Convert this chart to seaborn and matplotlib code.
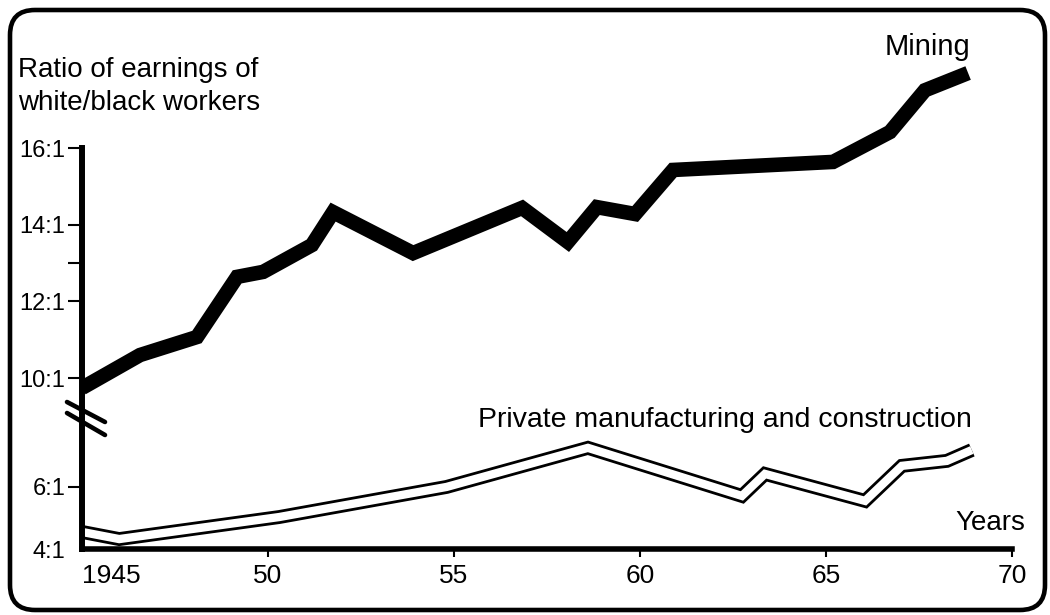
import pandas as pd
import matplotlib.pyplot as plt
import seaborn as sns
from matplotlib.patches import FancyBboxPatch
from matplotlib.lines import Line2D

# values (x in years, y as white/black ratio)
mining_years = [1945.0, 1946.56, 1948.09, 1949.17, 1949.87, 1951.18, 1951.75, 1953.9,
                1956.83, 1958.06, 1958.84, 1959.87, 1960.89, 1965.19, 1966.72, 1967.66, 1968.82]
mining_ratio = [9.74, 10.60, 11.07, 12.64, 12.77, 13.47, 14.33, 13.26,
                14.44, 13.55, 14.46, 14.28, 15.43, 15.64, 16.42, 17.51, 17.96]

private_years = [1945.0, 1946.0, 1950.3, 1954.8, 1958.6, 1962.74, 1963.36,
                 1966.05, 1967.04, 1968.25, 1968.92]
private_ratio = [4.55, 4.32, 5.03, 6.0, 7.26, 5.71, 6.42, 5.55, 6.68, 6.84, 7.19]

x_ticks = [1945, 1950, 1955, 1960, 1965, 1970]
x_labels = ['1945', '50', '55', '60', '65', '70']
upper_ticks = [10, 12, 14, 16]
upper_labels = ['10:1', '12:1', '14:1', '16:1']
lower_ticks = [4, 6]
lower_labels = ['4:1', '6:1']

mining = pd.DataFrame({'year': mining_years, 'ratio': mining_ratio})
private = pd.DataFrame({'year': private_years, 'ratio': private_ratio})

sns.set_style('ticks', {'axes.edgecolor': 'black', 'xtick.color': 'black',
                        'ytick.color': 'black', 'text.color': 'black'})
plt.rcParams['font.family'] = ['Liberation Sans', 'DejaVu Sans']

W, H = 1050, 615
fig = plt.figure(figsize=(W / 100, H / 100), dpi=100)


def fx(x):
    return x / W


def fy(y):
    return 1 - y / H


# broken y axis: two stacked axes sharing the years
ax_top = fig.add_axes([fx(82), fy(410), fx(930), 350 / H])
ax_bot = fig.add_axes([fx(82), fy(549), fx(930), 139 / H], sharex=ax_top)

sns.lineplot(data=mining, x='year', y='ratio', ax=ax_top, color='black', lw=10.5,
             solid_joinstyle='miter', solid_capstyle='butt')
sns.lineplot(data=private, x='year', y='ratio', ax=ax_bot, color='black', lw=10,
             solid_joinstyle='miter', solid_capstyle='butt')
sns.lineplot(data=private, x='year', y='ratio', ax=ax_bot, color='white', lw=6,
             solid_joinstyle='miter', solid_capstyle='butt')

ax_top.set_xlim(1945, 1970)
ax_top.set_ylim(9.165, 18.3)
ax_bot.set_ylim(4, 8.48)

for ax in (ax_top, ax_bot):
    ax.set_xlabel('')
    ax.set_ylabel('')
    ax.patch.set_visible(False)
    for s in ('top', 'right'):
        ax.spines[s].set_visible(False)
    ax.spines['left'].set_linewidth(4.3)
    ax.tick_params(axis='y', direction='out', length=10, width=1.5, labelsize=17, pad=2)

ax_top.spines['bottom'].set_visible(False)
ax_top.spines['left'].set_bounds(9.165, 16)
ax_top.tick_params(axis='x', bottom=False, labelbottom=False)
ax_top.set_yticks(upper_ticks, upper_labels)
ax_top.set_yticks([13], minor=True)
ax_top.tick_params(axis='y', which='minor', direction='out', length=10, width=1.5)

ax_bot.spines['bottom'].set_linewidth(4)
ax_bot.set_yticks(lower_ticks, lower_labels)
ax_bot.yaxis.get_major_ticks()[0].tick1line.set_visible(False)
ax_bot.set_xticks(x_ticks, x_labels)
ax_bot.tick_params(axis='x', direction='out', length=6, width=1.5, labelsize=19, pad=5)
ax_bot.xaxis.get_major_ticks()[0].tick1line.set_visible(False)
ax_bot.get_xticklabels()[0].set_ha('left')
ax_bot.set_xticks([1970], minor=True)
ax_bot.tick_params(axis='x', which='minor', direction='in', length=6, width=1.5)

# break marks across the y axis
for y0, y1 in [(402, 422), (413, 435)]:
    fig.add_artist(Line2D([fx(67), fx(105)], [fy(y0), fy(y1)], color='black', lw=3.3))

# labels
fig.text(fx(18), fy(77), 'Ratio of earnings of', fontsize=20, va='baseline')
fig.text(fx(18), fy(110), 'white/black workers', fontsize=20, va='baseline')
fig.text(fx(885), fy(55), 'Mining', fontsize=21, va='baseline')
fig.text(fx(478), fy(427), 'Private manufacturing and construction', fontsize=20.5, va='baseline')
fig.text(fx(955), fy(530), 'Years', fontsize=20, va='baseline')

# outer frame
frame = FancyBboxPatch((0.10, 0.05), 10.35, 6.0, boxstyle='round,pad=0,rounding_size=0.25',
                       transform=fig.dpi_scale_trans, fill=False, lw=3.3, ec='black')
fig.add_artist(frame)

fig.savefig('out.png', dpi=100)
